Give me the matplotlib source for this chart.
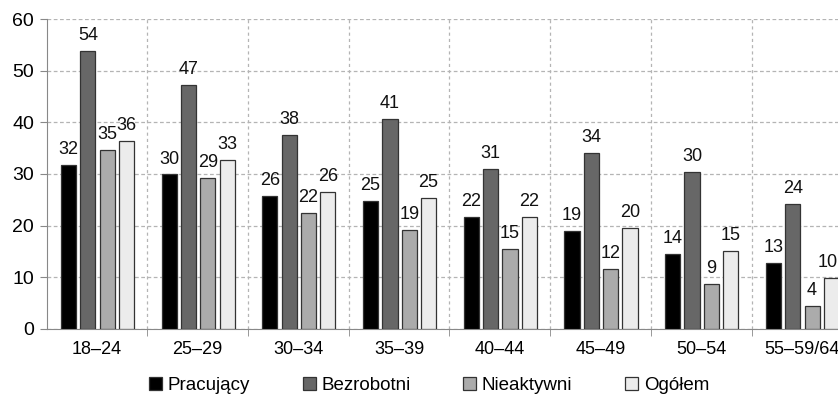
import numpy as np
import matplotlib
matplotlib.use("Agg")
import matplotlib.pyplot as plt

plt.rcParams["font.family"] = ["Liberation Sans", "DejaVu Sans"]

groups = ["18\u201324", "25\u201329", "30\u201334", "35\u201339",
          "40\u201344", "45\u201349", "50\u201354", "55\u201359/64"]
series = ["Pracujący", "Bezrobotni", "Nieaktywni", "Ogółem"]

pracujacy  = [31.7, 29.9, 25.8, 24.7, 21.7, 18.9, 14.5, 12.7]
bezrobotni = [53.8, 47.2, 37.6, 40.7, 31.0, 34.1, 30.4, 24.1]
nieaktywni = [34.6, 29.3, 22.4, 19.1, 15.4, 11.5, 8.7, 4.4]
ogolem     = [36.4, 32.8, 26.5, 25.4, 21.6, 19.6, 15.1, 9.8]

colors = ["#000000", "#676767", "#ababab", "#ececec"]

fig = plt.figure(figsize=(8.38, 4.11), dpi=100)
ax = fig.add_axes([0.0557, 0.2002, 0.9613, 0.753])

x = np.arange(len(groups))
width = 0.15
step = 0.192
for i, (vals, name, c) in enumerate(zip([pracujacy, bezrobotni, nieaktywni, ogolem],
                                         series, colors)):
    pos = x + (i - 1.5) * step + 0.005
    bars = ax.bar(pos, vals, width, color=c, edgecolor="#333333", linewidth=0.9,
                  label=name, zorder=3)
    for j, (b, v) in enumerate(zip(bars, vals)):
        # the last bar sits at the figure edge, pull its label inward a bit
        dx = -3 if (i == 3 and j == len(vals) - 1) else 0
        ax.annotate(f"{v:.0f}", (b.get_x() + b.get_width() / 2, v),
                    xytext=(dx, 5), textcoords="offset points",
                    ha="center", va="bottom", fontsize=13, color="#111111")

ax.set_xlim(-0.5, len(groups) - 0.5)
ax.set_ylim(0, 60)
ax.set_yticks(range(0, 61, 10))
ax.set_xticks(x)
ax.set_xticklabels(groups)
ax.set_xticks(np.arange(0.5, len(groups) - 0.5, 1.0), minor=True)
ax.tick_params(axis="x", which="major", length=0, pad=9, labelsize=13)
ax.tick_params(axis="x", which="minor", length=5, color="#888888")
ax.tick_params(axis="y", length=5, color="#888888", labelsize=14, pad=4)

ax.grid(axis="y", ls=(0, (3, 2)), color="#b4b4b4", lw=0.9, zorder=0)
ax.grid(axis="x", which="minor", ls=(0, (2.5, 2.5)), color="#b4b4b4", lw=0.9, zorder=0)
ax.grid(axis="x", which="major", visible=False)
for s in ["top", "right"]:
    ax.spines[s].set_visible(False)
for s in ["left", "bottom"]:
    ax.spines[s].set_color("#888888")

fig.legend(loc="center", bbox_to_anchor=(0.512, 0.062), ncol=4, frameon=False,
           fontsize=13.5, handlelength=0.7, handleheight=0.7, handletextpad=0.3,
           columnspacing=2.8)

fig.savefig("out.png", dpi=100)
